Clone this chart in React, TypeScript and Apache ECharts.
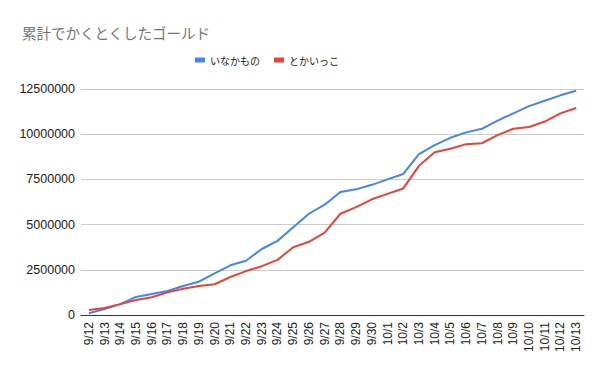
import React, { useEffect, useRef } from "react";
import * as echarts from "echarts";

const titleText = "累計でかくとくしたゴールド";
const seriesNames = ["いなかもの", "とかいっこ"];
const categories = [
  "9/12", "9/13", "9/14", "9/15", "9/16", "9/17", "9/18", "9/19", "9/20", "9/21",
  "9/22", "9/23", "9/24", "9/25", "9/26", "9/27", "9/28", "9/29", "9/30", "10/1",
  "10/2", "10/3", "10/4", "10/5", "10/6", "10/7", "10/8", "10/9", "10/10", "10/11",
  "10/12", "10/13",
];
const inakamono = [
  100000, 330000, 600000, 1000000, 1160000, 1330000, 1600000, 1840000, 2300000, 2750000,
  3000000, 3650000, 4100000, 4850000, 5600000, 6100000, 6800000, 6950000, 7200000, 7500000,
  7800000, 8900000, 9400000, 9800000, 10100000, 10300000, 10750000, 11150000, 11550000, 11850000,
  12150000, 12400000,
];
const tokaikko = [
  280000, 390000, 600000, 830000, 980000, 1250000, 1450000, 1600000, 1700000, 2100000,
  2430000, 2700000, 3050000, 3750000, 4050000, 4550000, 5600000, 5970000, 6400000, 6700000,
  7000000, 8250000, 9000000, 9200000, 9450000, 9500000, 9950000, 10300000, 10400000, 10700000,
  11150000, 11450000,
];
const yMax = 12500000;
const yInterval = 2500000;

export default function App() {
  const ref = useRef<HTMLDivElement>(null);
  useEffect(() => {
    if (!ref.current) return;
    const chart = echarts.init(ref.current, undefined, { renderer: "svg" });
    chart.setOption({
      animation: false,
      backgroundColor: "#ffffff",
      title: {
        text: titleText,
        left: 17,
        top: 20,
        textStyle: {
          fontFamily: "Noto Sans CJK JP",
          fontSize: 14.5,
          fontWeight: "normal",
          color: "#757575",
        },
      },
      legend: {
        left: 190,
        top: 50,
        itemWidth: 10,
        itemHeight: 5,
        itemGap: 14,
        icon: "rect",
        textStyle: {
          fontFamily: "Noto Sans CJK JP",
          fontSize: 10,
          color: "#222222",
        },
        data: seriesNames,
      },
      grid: { left: 81, right: 16, top: 89, bottom: 56, containLabel: false },
      xAxis: {
        type: "category",
        data: categories,
        boundaryGap: true,
        axisLine: { lineStyle: { color: "#333333", width: 1 } },
        axisTick: { show: false },
        axisLabel: {
          rotate: 90,
          interval: 0,
          margin: 7,
          fontFamily: "Liberation Sans",
          fontSize: 12,
          color: "#222222",
        },
      },
      yAxis: {
        type: "value",
        min: 0,
        max: yMax,
        interval: yInterval,
        axisLine: { show: false },
        axisTick: { show: false },
        splitLine: { lineStyle: { color: "#cccccc", width: 1 } },
        axisLabel: {
          margin: 6,
          fontFamily: "Liberation Sans",
          fontSize: 12.5,
          color: "#222222",
          formatter: (v: number) => String(v),
        },
      },
      series: [
        {
          name: seriesNames[0],
          type: "line",
          data: inakamono,
          showSymbol: false,
          symbol: "none",
          lineStyle: { color: "#4285F4", width: 2 },
          itemStyle: { color: "#4285F4" },
        },
        {
          name: seriesNames[1],
          type: "line",
          data: tokaikko,
          showSymbol: false,
          symbol: "none",
          lineStyle: { color: "#EA4335", width: 2 },
          itemStyle: { color: "#EA4335" },
        },
      ],
    });
    return () => chart.dispose();
  }, []);
  return <div ref={ref} style={{ width: 600, height: 371, position: "absolute", left: 0, top: 0 }} />;
}
